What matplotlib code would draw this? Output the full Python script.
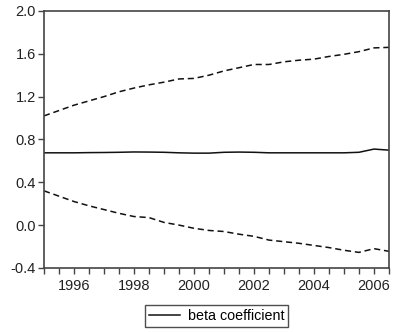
import matplotlib
matplotlib.use("Agg")
import matplotlib.pyplot as plt
import numpy as np

plt.rcParams['font.family'] = ['Liberation Sans', 'DejaVu Sans']

# half-year points, 1995.0 .. 2006.5
years = np.arange(1995.0, 2006.51, 0.5)
upper = [1.02, 1.07, 1.12, 1.16, 1.20, 1.245, 1.28, 1.31, 1.335, 1.365, 1.37, 1.40,
         1.44, 1.47, 1.50, 1.50, 1.525, 1.54, 1.55, 1.575, 1.595, 1.62, 1.655, 1.66]
beta = [0.675, 0.675, 0.675, 0.677, 0.678, 0.680, 0.683, 0.682, 0.680, 0.675, 0.672, 0.672,
        0.680, 0.682, 0.680, 0.675, 0.675, 0.675, 0.675, 0.675, 0.675, 0.680, 0.710, 0.700]
lower = [0.32, 0.27, 0.22, 0.18, 0.145, 0.11, 0.08, 0.07, 0.025, 0.0, -0.03, -0.05,
         -0.06, -0.085, -0.105, -0.14, -0.155, -0.17, -0.19, -0.21, -0.235, -0.255, -0.22, -0.245]

fig = plt.figure(figsize=(4.0, 3.32), dpi=100)
ax = fig.add_axes([0.11, 0.193, 0.8625, 0.774])

ax.plot(years, beta, color='#111111', lw=1.1, label='beta coefficient')
ax.plot(years, upper, color='#111111', lw=1.1, ls=(0, (4, 2.5)))
ax.plot(years, lower, color='#111111', lw=1.1, ls=(0, (4, 2.5)))

ax.set_xlim(1995.0, 2006.5)
ax.set_ylim(-0.4, 2.0)
ax.set_yticks([-0.4, 0.0, 0.4, 0.8, 1.2, 1.6, 2.0])
ax.set_yticklabels(['-0.4', '0.0', '0.4', '0.8', '1.2', '1.6', '2.0'])
ax.set_xticks([1996, 1998, 2000, 2002, 2004, 2006])
ax.set_xticks(np.arange(1995.0, 2006.51, 0.5), minor=True)

for s in ax.spines.values():
    s.set_color('#444444')
    s.set_linewidth(1.2)
ax.tick_params(axis='both', which='both', direction='out', color='#444444',
               width=1.0, labelsize=10.5, labelcolor='#222222')
ax.tick_params(axis='x', which='both', length=4, pad=4)
ax.tick_params(axis='y', length=4, pad=2)

leg = ax.legend(loc='upper center', bbox_to_anchor=(0.5, -0.115), ncol=1,
                frameon=True, fancybox=False, fontsize=10.3, handlelength=2.2,
                borderpad=0.3, handletextpad=0.5)
leg.get_frame().set_edgecolor('#222222')
leg.get_frame().set_linewidth(1.0)

fig.savefig('out.png', dpi=100)
